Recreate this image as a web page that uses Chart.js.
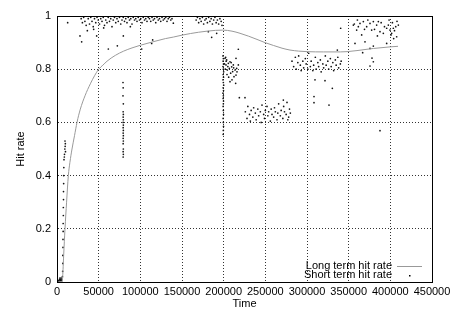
<!DOCTYPE html>
<html lang="en">
<head>
<meta charset="UTF-8">
<title>Hit rate over time</title>
<style>
  html, body { margin: 0; padding: 0; background: #fff; }
  canvas { display: block; }
</style>
</head>
<body>
<canvas id="canvas" width="470" height="319"></canvas>

<script src="https://cdn.jsdelivr.net/npm/chart.js@4.4.0/dist/chart.umd.min.js"></script>
<script>
  // long term hit rate (smooth curve)
  const longTime = [0, 6000, 6800, 8000, 9600, 11500, 13600, 15500, 18000, 21000,
    24000, 28000, 33600, 40000, 45000, 50000, 55000, 60000, 70000, 80000,
    90000, 100000, 111600, 120000, 130000, 140000, 150000, 160000, 170000, 180000,
    190000, 199000, 210000, 219600, 230000, 240000, 249600, 260000, 270000, 279600,
    290000, 300000, 320000, 340000, 348000, 360000, 372000, 380000, 390000, 400000,
    409200];
  const longRate = [0, 0, 0.02, 0.1, 0.2, 0.3, 0.4, 0.45, 0.5, 0.55,
    0.6, 0.65, 0.7, 0.745, 0.775, 0.8, 0.815, 0.83, 0.852, 0.868,
    0.88, 0.89, 0.9, 0.907, 0.915, 0.921, 0.928, 0.934, 0.939, 0.943,
    0.946, 0.947, 0.943, 0.935, 0.924, 0.912, 0.9, 0.889, 0.879, 0.872,
    0.868, 0.866, 0.865, 0.865, 0.866, 0.87, 0.875, 0.878, 0.881, 0.884,
    0.886];

  // short term hit rate (dots)
  const shortTime = [
    500, 1000, 1500, 2000, 2500, 3000, 3500, 4000, 4500, 5000, 5500, 6000, 6500,
    6800, 7000, 7000, 7200, 7200, 7400, 7400, 7600, 7600, 7800, 7800, 8000, 8000, 8200, 8400, 8800, 9000, 9400, 9600, 9800, 10000, 10200,
    12000, 12800, 13000, 14000, 15000, 16000, 17000, 18000, 19000, 20000, 21000, 22000, 23000, 24000, 25000, 26000, 27000, 28000,
    27600, 29600, 36400, 44000, 47600, 56000, 61600, 72400, 79600, 88000, 101600, 113600, 114800,
    29000, 30500, 32000, 33500, 35000, 37500, 39000, 40500, 42000, 43500,
    45000, 46500, 48000, 49500, 51000, 52500, 54000, 55500, 57000, 58500,
    60000, 61500, 63000, 64500, 66000, 67500, 69000, 70500, 72000, 73500,
    75000, 76500, 78000, 79500, 81000, 82500, 84000, 85500, 87000, 88500,
    90000, 91500, 93000, 94500, 96000, 97500, 99000, 100500, 102000, 103500,
    105000, 106500, 108000, 109500, 111000, 112500, 114000, 115500, 117000, 118500,
    120000, 121500, 123000, 124500, 126000, 127500, 129000, 130500, 132000, 133500,
    135000, 136500, 138000, 139600,
    // dip around 80000
    79200, 79400, 79200, 79600, 79400, 79600, 79400, 79600, 79400, 79600,
    79400, 79600, 79400, 79600, 79400, 79600, 79400, 79600, 79400, 79600, 79400,
    140000, 141000, 142000, 143000, 144000, 145000, 146000, 147000, 148000, 149000,
    150000, 151000, 152000, 153000, 154000, 155000, 156000, 157000, 158000, 159000,
    160000, 161000, 162000, 163000, 164000, 165000, 166000,
    167000, 168500, 170000, 171500, 173000, 174500, 176000, 177500, 179000, 180500,
    182000, 183500, 185000, 186500, 188000, 189500, 191000, 192500, 194000, 195500,
    197000, 198000, 181600, 185600, 191600,
    199200, 199600, 199400, 199800, 199200, 199600, 200000, 199400, 199800, 199200,
    199600, 200000, 199400, 199800, 199200, 199600, 199400, 199800, 199600, 199400,
    199600, 199800, 199400, 199600, 199800, 199600, 199400,
    201600, 203600, 205600, 202800, 207600, 209600, 206800, 211600, 213600, 210800,
    215600, 217600, 204400, 208400, 214800, 212400, 207600, 214400, 218800, 225600,
    217600, 214800, 203000, 205000, 209000, 204000, 202000, 212000, 216000, 206000,
    210000, 201000, 202400,
    226000, 228000, 229000, 231000, 232000, 233000, 235000, 236000, 238000, 239000,
    241000, 242000, 244000, 245000, 246000, 248000, 249000, 250000, 252000, 253000,
    254000, 256000, 257000, 258000, 260000, 261000, 262000, 264000, 265000, 266000,
    268000, 269000, 271000, 272000, 273000, 275000, 276000, 278000, 279000, 280000,
    271600, 277000,
    282000, 284000, 286000, 287000, 289000, 290000, 292000, 293000, 295000, 296000,
    298000, 299000, 301000, 302000, 304000, 305000, 307000, 308000, 310000, 311000,
    313000, 314000, 316000, 317000, 319000, 320000, 322000, 323000, 325000, 326000,
    328000, 329000, 331000, 332000, 334000, 335000, 337000, 338000, 340000, 341000,
    309600, 321600, 330400, 308400, 308400, 326400, 336400, 340400,
    343000, 344000, 345000, 346000, 347000, 348000, 349000, 350000, 351000, 352000,
    353000, 354000, 355000, 356000, 357000, 358000, 359000, 360000, 361000, 362000,
    363000, 364000, 365000, 366000, 367000, 368000, 369000, 370000, 371000, 372000,
    373000, 374000, 375000, 376000, 377000, 378000, 379000, 380000, 381000, 382000,
    383000, 384000, 385000, 386000, 387000, 388000, 389000, 390000, 391000, 392000,
    393000, 394000, 395000, 396000, 397000, 398000, 399000, 400000, 401000, 402000,
    403000, 404000, 405000, 406000, 407000, 408000, 409000,
    355600, 359600, 363600, 367600, 365600, 371600, 375600, 379600, 377600, 383600,
    385600, 387600, 391600, 395600, 397600, 399600, 401600, 403600, 409600, 357600,
    369600, 366800, 375600, 379600, 395600, 407600, 400800, 379600, 378000, 375600,
    387600, 356800, 361600, 373000, 381000, 389000, 393000, 398500, 402500, 405000,
    406500, 408000, 404000, 360500, 369000, 384500
  ];
  const shortRate = [
    0, 0, 0.005, 0, 0.005, 0.01, 0.015, 0.005, 0.01, 0.015, 0.005, 0.01, 0.02,
    0.04, 0.07, 0.1, 0.13, 0.16, 0.19, 0.22, 0.25, 0.28, 0.31, 0.34, 0.37, 0.4, 0.43, 0.46, 0.47, 0.48, 0.5, 0.53, 0.51, 0.52, 0.49,
    1, 0.975, 1, 1, 1, 1, 1, 1, 1, 1, 1, 1, 1, 1, 1, 1, 1, 1,
    0.925, 0.903, 0.945, 0.95, 0.925, 0.955, 0.876, 0.888, 0.925, 0.96, 0.876, 0.897, 0.91,
    0.99, 0.975, 0.995, 0.98, 0.965, 0.99, 0.97, 0.995, 0.98, 0.96,
    0.99, 0.975, 0.995, 0.985, 0.97, 0.99, 0.98, 0.995, 0.965, 0.985,
    0.975, 0.995, 0.98, 0.99, 0.96, 0.985, 0.995, 0.975, 0.99, 0.98,
    0.995, 0.97, 0.985, 0.995, 0.98, 0.99, 0.975, 0.995, 0.985, 0.99,
    0.97, 0.995, 0.985, 0.99, 0.98, 0.995, 0.985, 0.99, 0.975, 0.995,
    0.985, 0.99, 0.98, 0.995, 0.99, 0.98, 0.995, 0.985, 0.99, 0.975,
    0.995, 0.985, 0.99, 0.98, 0.995, 0.985, 0.99, 0.995, 0.98, 0.99,
    0.995, 0.985, 0.99, 0.973,
    0.75, 0.73, 0.7, 0.67, 0.64, 0.63, 0.62, 0.61, 0.6, 0.59,
    0.58, 0.57, 0.56, 0.55, 0.54, 0.53, 0.52, 0.5, 0.49, 0.48, 0.47,
    1, 1, 1, 1, 1, 1, 1, 1, 1, 1,
    1, 1, 1, 1, 1, 1, 1, 1, 1, 1,
    1, 1, 1, 1, 1, 1, 1,
    0.985, 0.995, 0.975, 0.99, 0.98, 0.995, 0.97, 0.985, 0.99, 0.975,
    0.995, 0.98, 0.99, 0.97, 0.985, 0.995, 0.975, 0.985, 0.97, 0.99,
    0.98, 0.965, 0.941, 0.92, 0.935,
    0.85, 0.84, 0.83, 0.82, 0.81, 0.8, 0.79, 0.78, 0.77, 0.76,
    0.75, 0.74, 0.73, 0.72, 0.71, 0.7, 0.69, 0.68, 0.67, 0.66,
    0.645, 0.63, 0.615, 0.6, 0.585, 0.57, 0.555,
    0.841, 0.835, 0.822, 0.816, 0.828, 0.809, 0.803, 0.816, 0.797, 0.791,
    0.803, 0.816, 0.797, 0.785, 0.778, 0.772, 0.753, 0.747, 0.693, 0.693,
    0.875, 0.841, 0.83, 0.81, 0.825, 0.78, 0.8, 0.805, 0.79, 0.77,
    0.76, 0.82, 0.845,
    0.64, 0.615, 0.66, 0.63, 0.605, 0.645, 0.62, 0.655, 0.635, 0.61,
    0.65, 0.625, 0.64, 0.6, 0.665, 0.63, 0.615, 0.645, 0.66, 0.625,
    0.64, 0.605, 0.65, 0.63, 0.62, 0.655, 0.64, 0.61, 0.635, 0.67,
    0.625, 0.645, 0.615, 0.66, 0.64, 0.63, 0.675, 0.62, 0.65, 0.635,
    0.684, 0.61,
    0.83, 0.81, 0.845, 0.8, 0.825, 0.85, 0.815, 0.795, 0.83, 0.805,
    0.84, 0.82, 0.8, 0.86, 0.81, 0.83, 0.795, 0.815, 0.845, 0.8,
    0.825, 0.81, 0.835, 0.79, 0.82, 0.805, 0.85, 0.815, 0.83, 0.8,
    0.84, 0.81, 0.825, 0.795, 0.835, 0.815, 0.845, 0.805, 0.82, 0.83,
    0.76, 0.757, 0.728, 0.697, 0.674, 0.665, 0.872, 0.954,
    1, 1, 1, 1, 1, 1, 1, 1, 1, 1,
    1, 1, 1, 1, 1, 1, 1, 1, 1, 1,
    1, 1, 1, 1, 1, 1, 1, 1, 1, 1,
    1, 1, 1, 1, 1, 1, 1, 1, 1, 1,
    1, 1, 1, 1, 1, 1, 1, 1, 1, 1,
    1, 1, 1, 1, 1, 1, 1, 1, 1, 1,
    1, 1, 1, 1, 1, 1, 1,
    0.966, 0.947, 0.972, 0.979, 0.929, 0.96, 0.972, 0.979, 0.947, 0.966,
    0.979, 0.941, 0.935, 0.954, 0.966, 0.947, 0.935, 0.954, 0.966, 0.897,
    0.903, 0.862, 0.878, 0.887, 0.897, 0.922, 0.929, 0.828, 0.842, 0.812,
    0.569, 0.97, 0.96, 0.985, 0.95, 0.975, 0.96, 0.985, 0.975, 0.945,
    0.96, 0.98, 0.915, 0.985, 0.95, 0.925
  ];

  const xTicks = [0, 50000, 100000, 150000, 200000, 250000, 300000, 350000, 400000, 450000];
  const yTicks = [0, 0.2, 0.4, 0.6, 0.8, 1];
  const seriesNames = ['Long term hit rate', 'Short term hit rate'];

  const font = { family: '"Liberation Sans", Arial, sans-serif', size: 11 };

  // gnuplot style frame + key in the lower right corner
  const framePlugin = {
    id: 'frame',
    afterDraw(chart) {
      const { ctx, chartArea: a } = chart;
      ctx.save();
      ctx.strokeStyle = '#000';
      ctx.lineWidth = 1;
      ctx.strokeRect(Math.round(a.left) + 0.5, Math.round(a.top) + 0.5,
        Math.round(a.right - a.left), Math.round(a.bottom - a.top));

      ctx.font = font.size + 'px ' + font.family;
      ctx.fillStyle = '#000';
      ctx.textAlign = 'right';
      ctx.textBaseline = 'middle';
      const tx = a.right - 40;
      const y1 = a.bottom - 16, y2 = a.bottom - 7;
      ctx.fillText(seriesNames[0], tx, y1);
      ctx.fillText(seriesNames[1], tx, y2);
      ctx.strokeStyle = '#999';
      ctx.beginPath();
      ctx.moveTo(a.right - 35, y1 + 0.5);
      ctx.lineTo(a.right - 10, y1 + 0.5);
      ctx.stroke();
      ctx.fillRect(a.right - 23, y2, 1.5, 1.5);
      ctx.restore();
    }
  };

  new Chart(document.getElementById('canvas'), {
    type: 'scatter',
    data: {
      datasets: [{
        label: seriesNames[0],
        data: longTime.map((t, i) => ({ x: t, y: longRate[i] })),
        showLine: true,
        borderColor: '#9a9a9a',
        borderWidth: 1,
        pointRadius: 0,
        cubicInterpolationMode: 'monotone'
      }, {
        label: seriesNames[1],
        data: shortTime.map((t, i) => ({ x: t, y: shortRate[i] })),
        pointRadius: 0.85,
        pointBorderWidth: 0,
        pointBackgroundColor: '#111',
        backgroundColor: '#111'
      }]
    },
    options: {
      responsive: false,
      animation: false,
      devicePixelRatio: 1,
      layout: { padding: { top: 16, right: 38, left: 0, bottom: 0 } },
      plugins: { legend: { display: false }, tooltip: { enabled: false } },
      scales: {
        x: {
          type: 'linear',
          min: 0,
          max: 450000,
          afterBuildTicks: (s) => { s.ticks = xTicks.map(v => ({ value: v })); },
          afterFit: (s) => { s.height = 37; },
          ticks: { font, color: '#000', padding: 3, maxRotation: 0, autoSkip: false, callback: (v) => String(v) },
          grid: { color: '#333', drawTicks: false },
          border: { color: '#000', dash: [1, 2] },
          title: { display: true, text: 'Time', font, color: '#000', padding: { top: 0, bottom: 8 } }
        },
        y: {
          min: 0,
          max: 1,
          afterBuildTicks: (s) => { s.ticks = yTicks.map(v => ({ value: v })); },
          afterFit: (s) => { s.width = 57; },
          ticks: { font, color: '#000', padding: 6, callback: (v) => String(v) },
          grid: { color: '#333', drawTicks: false },
          border: { color: '#000', dash: [1, 2] },
          title: { display: true, text: 'Hit rate', font, color: '#000', padding: { top: 14, bottom: 0 } }
        }
      }
    },
    plugins: [framePlugin]
  });
</script>
</body>
</html>
